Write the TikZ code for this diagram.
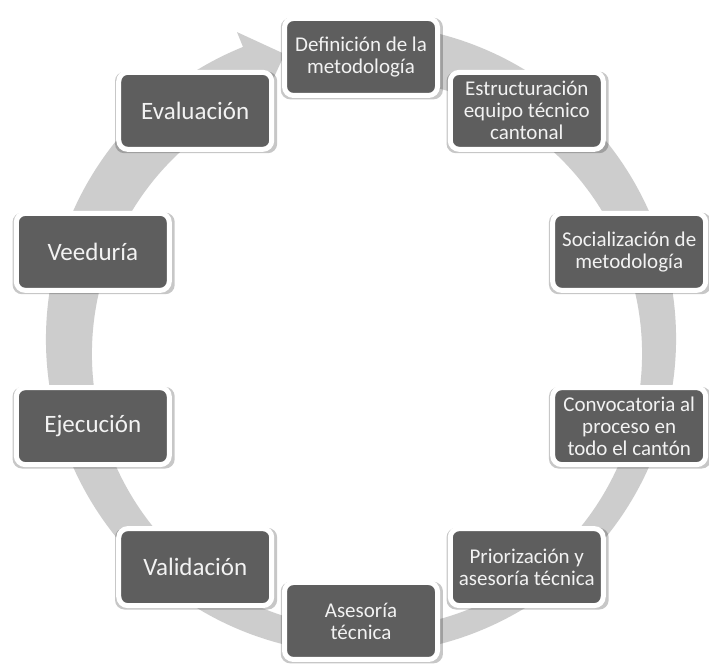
\documentclass[tikz,border=0pt]{standalone}
\usepackage{fontspec}
\setmainfont{Carlito}
\usetikzlibrary{shadows,calc}
\definecolor{boxgray}{RGB}{94,94,94}
\definecolor{ringgray}{RGB}{205,205,205}
\definecolor{boxtext}{RGB}{242,242,242}
\tikzset{
  stepbox/.style={rectangle, rounded corners=9pt, fill=boxgray, draw=white,
    line width=5pt, minimum width=153pt, minimum height=77pt, inner sep=1pt,
    text=boxtext, align=center, font=\fontsize{21}{22}\selectfont,
    drop shadow={shadow xshift=0.8pt, shadow yshift=-1.5pt, shadow scale=1.06,
      opacity=0.22, fill=black}},
  bigtext/.style={font=\fontsize{25}{26}\selectfont}
}
\begin{document}
\begin{tikzpicture}[x=1pt,y=1pt]
\useasboundingbox (0,0) rectangle (709,666);
\fill[white] (0,0) rectangle (709,666);
\coordinate (C) at (361,327);
% circular arrow
\fill[ringgray, shift={(361pt,327pt)}]
  (80:315pt) arc[start angle=80, end angle=-248, radius=315pt]
  -- (112:331pt) -- (105:295pt) -- (112:259pt)
  arc[start angle=-248, end angle=80, radius=275pt] -- cycle;
% steps
\node[stepbox] (def) at ($(C)+(90:282)$) {Definición de la\\metodología};
\node[stepbox] (est) at ($(C)+(54:282)$) {Estructuración\\equipo técnico\\cantonal};
\node[stepbox] (soc) at ($(C)+(18:282)$) {Socialización de\\metodología};
\node[stepbox] (con) at ($(C)+(-18:282)$) {Convocatoria al\\proceso en\\todo el cantón};
\node[stepbox] (pri) at ($(C)+(-54:282)$) {Priorización y\\asesoría técnica};
\node[stepbox] (ase) at ($(C)+(-90:282)$) {Asesoría\\técnica};
\node[stepbox, bigtext] (val) at ($(C)+(-126:282)$) {Validación};
\node[stepbox, bigtext] (eje) at ($(C)+(-162:282)$) {Ejecución};
\node[stepbox, bigtext] (vee) at ($(C)+(162:282)$) {Veeduría};
\node[stepbox, bigtext] (eva) at ($(C)+(126:282)$) {Evaluación};
\end{tikzpicture}
\end{document}
